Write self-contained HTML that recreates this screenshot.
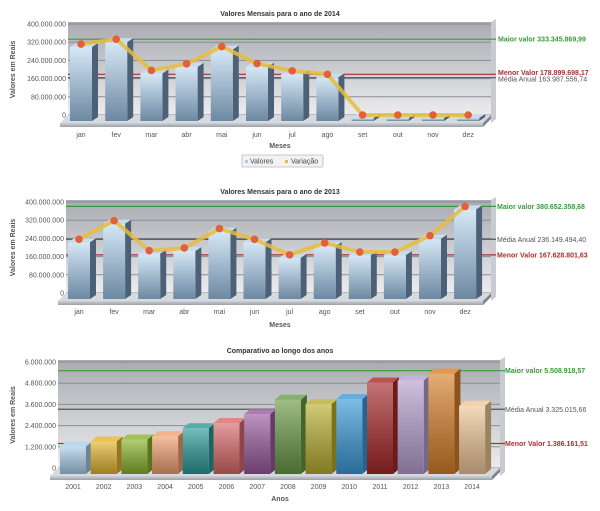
<!DOCTYPE html>
<html><head><meta charset="utf-8"><style>
html,body{margin:0;padding:0;background:#fff;}
svg{display:block;font-family:"Liberation Sans",sans-serif;}
</style></head><body>
<svg id="svg" width="600" height="511" viewBox="0 0 600 511">
<defs>
<linearGradient id="wall" x1="0" y1="0" x2="0" y2="1"><stop offset="0" stop-color="#a9abb1"/><stop offset="1" stop-color="#ececee"/></linearGradient>
<linearGradient id="floor" x1="0" y1="0" x2="0" y2="1"><stop offset="0" stop-color="#cfd3d8"/><stop offset="1" stop-color="#9aa0a8"/></linearGradient>
<linearGradient id="blueFront" x1="0" y1="0" x2="0" y2="1"><stop offset="0" stop-color="#d6e8f6"/><stop offset="1" stop-color="#6c88a2"/></linearGradient>
<linearGradient id="shade" x1="0" y1="0" x2="0" y2="1"><stop offset="0" stop-color="#fff" stop-opacity="0.35"/><stop offset="1" stop-color="#000" stop-opacity="0.3"/></linearGradient>
</defs>
</svg>
<script>
const months = ["jan","fev","mar","abr","mai","jun","jul","ago","set","out","nov","dez"];
const vals2014 = [312,333.3,196,225,301,226,194,178.9,0,0,0,0];
const vals2013 = [236,318,186,198,283,236,167.6,220,180,180,252,380.7];
const years = ["2001","2002","2003","2004","2005","2006","2007","2008","2009","2010","2011","2012","2013","2014"];
const valsYears = [1.386,1.67,1.78,1.97,2.42,2.72,3.21,4.03,3.79,4.07,5.01,5.12,5.509,3.69];
const yearColors = ["#a9cde8","#e3b530","#8ab32c","#f0a070","#2a9a98","#d96a6a","#9a5a9e","#6a9a48","#b8b030","#3a9ad8","#a8282a","#b8a0d0","#d8802a","#f0c898"];
const ticks14 = ["0","80.000.000","160.000.000","240.000.000","320.000.000","400.000.000"];
const tickVals14 = [0,80,160,240,320,400];
const ticksYears = ["0","1.200.000","2.400.000","3.600.000","4.800.000","6.000.000"];
const tickValsYears = [0,1.2,2.4,3.6,4.8,6.0];
const ref2014 = [333.35,178.9,163.99];
const refLabels2014 = ["Maior valor 333.345.869,99","Menor Valor 178.899.698,17","Média Anual 163.987.556,74"];
const ref2013 = [380.65,236.15,167.63];
const refLabels2013 = ["Maior valor 380.652.358,68","Média Anual 236.149.494,40","Menor Valor 167.628.801,63"];
const refYears = [5.509,3.325,1.386];
const refLabelsYears = ["Maior valor 5.508.918,57","Média Anual 3.325.015,66","Menor Valor 1.386.161,51"];
const refColors = {"Maior":"#3a9a3a","Menor":"#a83030","Média":"#555"};

const svg=document.getElementById('svg');
const NS="http://www.w3.org/2000/svg";
function el(tag,attrs,parent){const e=document.createElementNS(NS,tag);for(const k in attrs)e.setAttribute(k,attrs[k]);(parent||svg).appendChild(e);return e;}
function txt(s,attrs,parent){const t=el('text',attrs,parent);t.textContent=s;return t;}

function drawChart(c,cats,vals,tickLabels,tickVals,refs,refLabels,colors,line){
  const g=el('g',{});
  
  
  const yS=v=>c.zeroY-(v/c.max)*(c.zeroY-c.topY);
  const xS=i=>c.cx0+i*c.step;
  const t=txt(c.title,{x:c.titleX,y:c.titleY,'text-anchor':'middle','font-size':7,'font-weight':'bold',fill:'#333'},g);
  
  
  // wall
  const w=el('rect',{x:c.left,y:c.topY-2,width:c.right-c.left,height:c.zeroY-c.topY+2,fill:'url(#wall)'},g);
  
  
  el('polygon',{points:`${c.right},${c.topY-2} ${c.right+5},${c.topY-5} ${c.right+5},${c.zeroY+4} ${c.right},${c.zeroY+8}`,fill:'#c8cbd0'},g);
  // gridlines & ticks
  tickVals.forEach((v,i)=>{
    const y=yS(v);
    const gl=el('line',{x1:c.left,x2:c.right,y1:y,y2:y,stroke:'#8a8d93','stroke-width':1},g);
    
    
    const tl=txt(tickLabels[i],{x:c.left-2,y:y+2.5,'text-anchor':'end','font-size':7,fill:'#555'},g);
    
    
  });
  // floor
  const fl=el('polygon',{points:`${c.left},${c.zeroY} ${c.right},${c.zeroY} ${c.right-8},${c.zeroY+8} ${c.left-8},${c.zeroY+8}`,fill:'#d6d9dd'},g);
  
  
  el('rect',{x:c.left-8,y:c.zeroY+8,width:c.right-c.left,height:4,fill:'url(#floor)'},g);
  el('polygon',{points:`${c.right-8},${c.zeroY+8} ${c.right},${c.zeroY} ${c.right},${c.zeroY+4} ${c.right-8},${c.zeroY+12}`,fill:'#7f858d'},g);
  // ref lines
  refs.forEach((v,i)=>{
    const y=yS(v);
    const key=refLabels[i].split(' ')[0];
    const col=refColors[key];
    const rl=el('line',{x1:c.left,x2:c.right+5,y1:y,y2:y,stroke:col,'stroke-width':1.2},g);
    
    
    const lt=txt(refLabels[i],{x:c.refX,y:y+(c.refDy?c.refDy[i]:2.5),'font-size':7,fill:col,'font-weight':key==='Média'?'normal':'bold'},g);
    
    
  });
  // bars
  const bw=c.bw, dx=c.dx, dy=c.dy, bottom=c.zeroY+6;
  vals.forEach((v,i)=>{
    const cx=xS(i), x=cx-bw/2;
    const top=Math.min(yS(v)+3,bottom-1);
    const bg=el('g',{},g);
    
    
    const col=colors?colors[i]:null;
    el('polygon',{points:`${x+bw},${top} ${x+bw+dx},${top-dy} ${x+bw+dx},${bottom-dy} ${x+bw},${bottom}`,fill:col||'#4c6178'},bg);
    if(col) el('polygon',{points:`${x+bw},${top} ${x+bw+dx},${top-dy} ${x+bw+dx},${bottom-dy} ${x+bw},${bottom}`,fill:'#000','fill-opacity':0.35},bg);
    el('polygon',{points:`${x},${top} ${x+dx},${top-dy} ${x+bw+dx},${top-dy} ${x+bw},${top}`,fill:col||'#c9dcee'},bg);
    if(col) el('polygon',{points:`${x},${top} ${x+dx},${top-dy} ${x+bw+dx},${top-dy} ${x+bw},${top}`,fill:'#fff','fill-opacity':0.2},bg);
    el('rect',{x:x,y:top,width:bw,height:bottom-top,fill:col||'url(#blueFront)'},bg);
    if(col) el('rect',{x:x,y:top,width:bw,height:bottom-top,fill:'url(#shade)'},bg);
    const xl=txt(cats[i],{x:cx,y:c.catY,'text-anchor':'middle','font-size':7,fill:'#555'},g);
    
    
  });
  if(line){
    const pts=vals.map((v,i)=>`${xS(i)},${yS(v)}`).join(' ');
    const pl=el('polyline',{points:pts,fill:'none',stroke:'#e6bd3c','stroke-width':4,'stroke-opacity':0.85,'stroke-linejoin':'round'},g);
    
    
    vals.forEach((v,i)=>{
      const d=el('circle',{cx:xS(i),cy:yS(v),r:3.8,fill:'#e2603a'},g);
      
      
    });
  }
  const yt=txt('Valores em Reais',{x:0,y:0,transform:`translate(${c.yTitleX},${(c.topY+c.zeroY)/2}) rotate(-90)`,'text-anchor':'middle','font-size':7,'font-weight':'bold',fill:'#555'},g);
  
  
  const xt=txt(c.xTitle,{x:c.titleX,y:c.xTitleY,'text-anchor':'middle','font-size':7,'font-weight':'bold',fill:'#555'},g);
  
  
}

drawChart({name:'chart-2014',title:'Valores Mensais para o ano de 2014',titleX:280,titleY:16,left:68,right:491,topY:24,zeroY:115,max:400,cx0:81,step:35.2,bw:22,dx:6,dy:4,catY:137,xTitle:'Meses',xTitleY:148,refX:498,refDy:[2.5,0.5,4],yTitleX:15},
  months,vals2014,ticks14,tickVals14,ref2014,refLabels2014,null,true);
drawChart({name:'chart-2013',title:'Valores Mensais para o ano de 2013',titleX:280,titleY:194,left:66,right:491,topY:202,zeroY:293,max:400,cx0:79,step:35.1,bw:22,dx:6,dy:4,catY:314,xTitle:'Meses',xTitleY:327,refX:497,yTitleX:15},
  months,vals2013,ticks14,tickVals14,ref2013,refLabels2013,null,true);
drawChart({name:'chart-years',title:'Comparativo ao longo dos anos',titleX:280,titleY:353,left:58,right:500,topY:362,zeroY:468,max:6,cx0:73,step:30.7,bw:26,dx:6,dy:5,catY:489,xTitle:'Anos',xTitleY:501,refX:505,yTitleX:15},
  years,valsYears,ticksYears,tickValsYears,refYears,refLabelsYears,yearColors,false);

// legend
const lg=el('g',{});


el('rect',{x:242,y:155,width:81,height:12,fill:'#f2f2f2',stroke:'#bbb','stroke-width':0.8,rx:1},lg);
const l1=el('g',{},lg);


el('rect',{x:245,y:160,width:3,height:3,fill:'#a9cde8'},l1);
txt('Valores',{x:250,y:163.5,'font-size':7,fill:'#444'},l1);
const l2=el('g',{},lg);


el('rect',{x:285,y:160,width:3,height:3,fill:'#e6bd3c'},l2);
txt('Variação',{x:291,y:163.5,'font-size':7,fill:'#444'},l2);
</script>
</body></html>
